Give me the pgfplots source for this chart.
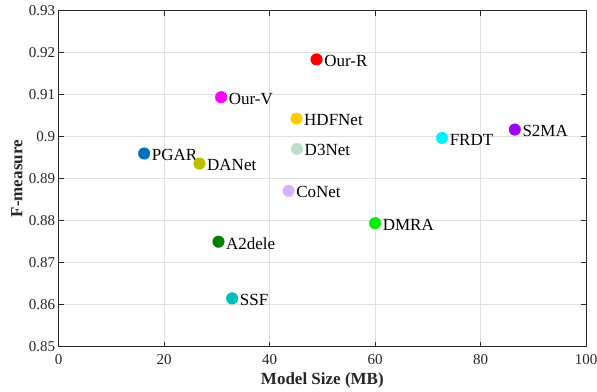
\documentclass[border=0pt]{standalone}
\usepackage{pgfplots}
\pgfplotsset{compat=1.18}
\usepackage{fontspec}
\setmainfont{Liberation Serif}
\definecolor{axgray}{RGB}{38,38,38}
\definecolor{gridgray}{RGB}{223,223,223}
\definecolor{cOurR}{RGB}{255,0,0}
\definecolor{cOurV}{RGB}{255,0,255}
\definecolor{cHDF}{RGB}{255,204,0}
\definecolor{cD3}{RGB}{190,222,200}
\definecolor{cPGAR}{RGB}{0,114,189}
\definecolor{cDAN}{RGB}{190,190,0}
\definecolor{cCo}{RGB}{215,180,250}
\definecolor{cFRDT}{RGB}{0,240,255}
\definecolor{cS2MA}{RGB}{160,0,255}
\definecolor{cDMRA}{RGB}{0,240,0}
\definecolor{cA2}{RGB}{0,128,0}
\definecolor{cSSF}{RGB}{0,190,190}
\tikzset{lbl/.style={anchor=west, inner sep=0pt, xshift=7.5pt, yshift=-1.5pt, font=\fontsize{17}{19}\selectfont, text=black}}
\begin{document}
\begin{tikzpicture}
\begin{axis}[
  name=ax,
  scale only axis,
  width=527.3pt, height=336pt,
  xmin=0, xmax=100, ymin=0.85, ymax=0.93,
  xtick={0,20,40,60,80,100},
  ytick={0.85,0.86,0.87,0.88,0.89,0.90,0.91,0.92,0.93},
  yticklabels={0.85,0.86,0.87,0.88,0.89,0.9,0.91,0.92,0.93},
  /pgf/number format/assume math mode=true,
  tick label style={font=\fontsize{15}{17}\selectfont, text=axgray},
  xticklabel style={yshift=-4pt},
  xlabel={\textbf{Model Size (MB)}},
  ylabel={\textbf{F-measure}},
  label style={font=\fontsize{17}{19}\selectfont, text=axgray},
  xlabel style={at={(axis description cs:0.5,-0.0991)}, anchor=center},
  ylabel style={at={(axis description cs:-0.0791,0.5)}, anchor=center},
  grid=major,
  major grid style={gridgray, line width=0.6pt},
  axis line style={axgray, line width=0.8pt},
  tick style={axgray, line width=0.8pt},
  tick align=inside,
  major tick length=5pt,
  xtick pos=both, ytick pos=both,
  clip=false,
]
\addplot[only marks, mark=*, mark size=5.8pt, cOurR] coordinates {(48.9,0.9184)} node[lbl] {Our-R};
\addplot[only marks, mark=*, mark size=5.8pt, cOurV] coordinates {(30.8,0.9094)} node[lbl] {Our-V};
\addplot[only marks, mark=*, mark size=5.8pt, cHDF] coordinates {(45.1,0.9043)} node[lbl] {HDFNet};
\addplot[only marks, mark=*, mark size=5.8pt, cD3] coordinates {(45.2,0.8971)} node[lbl] {D3Net};
\addplot[only marks, mark=*, mark size=5.8pt, cPGAR] coordinates {(16.2,0.8960)} node[lbl] {PGAR};
\addplot[only marks, mark=*, mark size=5.8pt, cDAN] coordinates {(26.7,0.8936)} node[lbl] {DANet};
\addplot[only marks, mark=*, mark size=5.8pt, cCo] coordinates {(43.6,0.8871)} node[lbl] {CoNet};
\addplot[only marks, mark=*, mark size=5.8pt, cFRDT] coordinates {(72.7,0.8997)} node[lbl] {FRDT};
\addplot[only marks, mark=*, mark size=5.8pt, cS2MA] coordinates {(86.5,0.9017)} node[lbl] {S2MA};
\addplot[only marks, mark=*, mark size=5.8pt, cDMRA] coordinates {(60.0,0.8794)} node[lbl] {DMRA};
\addplot[only marks, mark=*, mark size=5.8pt, cA2] coordinates {(30.3,0.8750)} node[lbl] {A2dele};
\addplot[only marks, mark=*, mark size=5.8pt, cSSF] coordinates {(32.9,0.8615)} node[lbl] {SSF};
\end{axis}
\pgfresetboundingbox
\path[use as bounding box] ([xshift=-58.7pt,yshift=-44.3pt]ax.south west) rectangle ([xshift=11pt,yshift=10.7pt]ax.north east);
\end{tikzpicture}
\end{document}
